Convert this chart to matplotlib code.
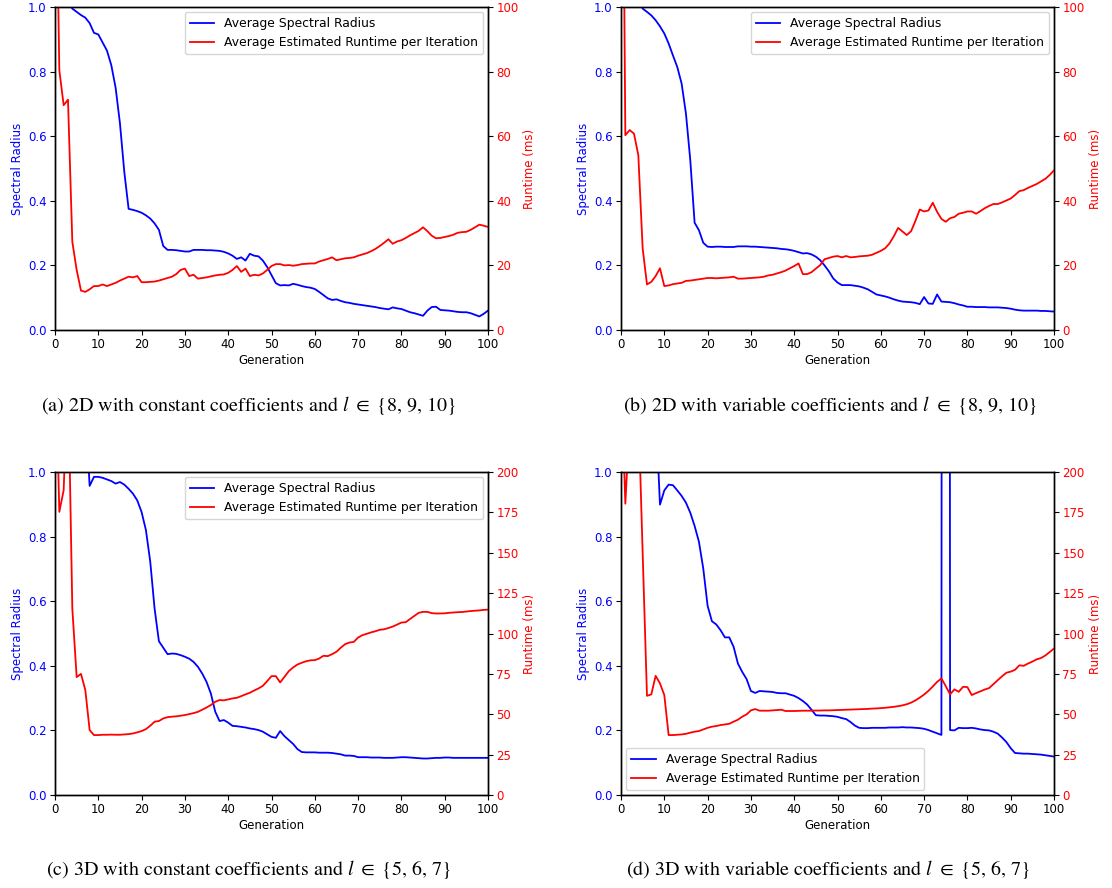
import matplotlib
matplotlib.use("Agg")
import matplotlib.pyplot as plt
import numpy as np

plt.rcParams['font.family'] = ['DejaVu Sans']
plt.rcParams['mathtext.fontset'] = 'stix'

generations = list(range(101))

sr_a = [1.2, 1.15, 1.1, 1.02, 0.995, 0.985, 0.975, 0.967, 0.95, 0.92,
        0.915, 0.89, 0.865, 0.82, 0.75, 0.64, 0.49, 0.375, 0.372, 0.368,
        0.363, 0.355, 0.345, 0.33, 0.31, 0.26, 0.248, 0.248, 0.247, 0.245,
        0.243, 0.243, 0.248, 0.248, 0.248, 0.247, 0.247, 0.246, 0.245, 0.242,
        0.237, 0.230, 0.220, 0.225, 0.215, 0.236, 0.230, 0.228, 0.215, 0.195,
        0.170, 0.145, 0.138, 0.139, 0.138, 0.143, 0.140, 0.136, 0.133, 0.131,
        0.127, 0.118, 0.108, 0.098, 0.093, 0.095, 0.090, 0.086, 0.084, 0.081,
        0.079, 0.077, 0.075, 0.073, 0.071, 0.068, 0.066, 0.064, 0.070, 0.067,
        0.065, 0.060, 0.055, 0.052, 0.048, 0.044, 0.060, 0.071, 0.072, 0.062,
        0.061, 0.060, 0.058, 0.056, 0.055, 0.055, 0.052, 0.047, 0.042, 0.050,
        0.060]
rt_a = [165, 80.4, 69.6, 71.3, 27.3, 18.6, 12.2, 11.8, 12.6, 13.6,
        13.6, 14.1, 13.6, 14.1, 14.6, 15.3, 15.9, 16.5, 16.3, 16.7,
        14.8, 14.8, 14.9, 15.0, 15.3, 15.7, 16.1, 16.5, 17.3, 18.6,
        19.0, 16.7, 17.1, 15.9, 16.1, 16.3, 16.6, 16.9, 17.1, 17.2,
        17.7, 18.6, 19.8, 18.0, 19.0, 16.7, 17.1, 16.9, 17.5, 18.6,
        19.8, 20.4, 20.4, 20.0, 20.1, 19.9, 20.1, 20.4, 20.5, 20.6,
        20.6, 21.2, 21.6, 22.0, 22.5, 21.6, 21.9, 22.2, 22.3, 22.5,
        23.0, 23.4, 23.8, 24.4, 25.1, 26.0, 27.0, 28.1, 26.7, 27.4,
        27.8, 28.5, 29.3, 30.0, 30.7, 31.8, 30.6, 29.2, 28.4, 28.5,
        28.8, 29.1, 29.5, 30.1, 30.3, 30.4, 31.0, 31.8, 32.6, 32.3,
        31.9]

sr_b = [1.3, 1.25, 1.2, 1.1, 1.05, 0.995, 0.985, 0.974, 0.959, 0.94,
        0.918, 0.887, 0.85, 0.814, 0.763, 0.67, 0.526, 0.332, 0.309, 0.27,
        0.258, 0.257, 0.258, 0.258, 0.257, 0.257, 0.257, 0.259, 0.259, 0.259,
        0.258, 0.258, 0.257, 0.256, 0.255, 0.254, 0.253, 0.251, 0.250, 0.248,
        0.245, 0.241, 0.237, 0.238, 0.234, 0.227, 0.216, 0.200, 0.182, 0.160,
        0.147, 0.139, 0.139, 0.139, 0.137, 0.135, 0.131, 0.126, 0.118, 0.110,
        0.107, 0.104, 0.100, 0.095, 0.091, 0.088, 0.087, 0.086, 0.084, 0.080,
        0.102, 0.082, 0.081, 0.110, 0.088, 0.087, 0.086, 0.083, 0.079, 0.076,
        0.072, 0.072, 0.071, 0.071, 0.071, 0.070, 0.070, 0.070, 0.069, 0.068,
        0.066, 0.063, 0.061, 0.060, 0.060, 0.060, 0.060, 0.059, 0.059, 0.058,
        0.057]
rt_b = [233, 60.3, 61.9, 60.8, 54.1, 25.3, 14.1, 14.9, 16.7, 19.1,
        13.6, 13.8, 14.2, 14.4, 14.6, 15.2, 15.3, 15.5, 15.7, 15.9,
        16.1, 16.1, 16.0, 16.1, 16.2, 16.3, 16.5, 15.9, 15.9, 16.0,
        16.1, 16.2, 16.3, 16.5, 16.9, 17.1, 17.5, 17.9, 18.4, 19.1,
        19.8, 20.6, 17.3, 17.3, 17.9, 19.0, 20.1, 21.9, 22.3, 22.7,
        22.9, 22.5, 22.9, 22.5, 22.6, 22.8, 22.9, 23.0, 23.3, 23.9,
        24.5, 25.3, 26.8, 29.0, 31.6, 30.5, 29.4, 30.6, 33.8, 37.3,
        36.7, 37.0, 39.4, 36.6, 34.4, 33.5, 34.6, 35.0, 36.0, 36.3,
        36.7, 36.7, 36.0, 36.8, 37.7, 38.4, 39.0, 39.0, 39.5, 40.1,
        40.7, 41.8, 43.0, 43.3, 44.0, 44.6, 45.2, 46.0, 46.8, 48.0,
        49.4]

sr_c = [1.5, 1.5, 1.4, 1.4, 1.3, 1.3, 1.2, 1.2, 0.957, 0.985,
        0.985, 0.982, 0.977, 0.972, 0.964, 0.969, 0.961, 0.948, 0.933, 0.912,
        0.876, 0.82, 0.722, 0.577, 0.476, 0.456, 0.436, 0.438, 0.437, 0.433,
        0.428, 0.422, 0.412, 0.397, 0.376, 0.350, 0.314, 0.258, 0.229, 0.232,
        0.224, 0.214, 0.213, 0.211, 0.209, 0.206, 0.204, 0.201, 0.196, 0.188,
        0.180, 0.177, 0.198, 0.182, 0.170, 0.158, 0.142, 0.133, 0.132, 0.132,
        0.132, 0.131, 0.131, 0.131, 0.130, 0.128, 0.126, 0.122, 0.122, 0.121,
        0.117, 0.117, 0.117, 0.116, 0.116, 0.116, 0.115, 0.115, 0.115, 0.116,
        0.117, 0.117, 0.116, 0.115, 0.114, 0.113, 0.113, 0.114, 0.115, 0.115,
        0.116, 0.116, 0.115, 0.115, 0.115, 0.115, 0.115, 0.115, 0.115, 0.115,
        0.115]
rt_c = [282, 175.3, 188.7, 264, 115.5, 73, 75, 65, 40.2, 37.1,
        37.1, 37.3, 37.3, 37.4, 37.3, 37.3, 37.5, 37.7, 38.1, 38.8,
        39.6, 40.8, 42.9, 45.4, 45.8, 47.4, 48.2, 48.5, 48.7, 49.1,
        49.5, 50.1, 50.7, 51.5, 52.8, 54.2, 55.7, 57.7, 58.8, 58.6,
        59.2, 59.8, 60.2, 61.2, 62.3, 63.3, 64.7, 66.0, 67.6, 70.5,
        73.6, 73.6, 69.7, 73.2, 76.7, 79.0, 80.8, 81.9, 82.8, 83.4,
        83.5, 84.5, 86.2, 86.0, 87.2, 88.7, 91.2, 93.4, 94.4, 94.8,
        97.5, 99.0, 99.8, 100.7, 101.4, 102.3, 102.6, 103.4, 104.3, 105.5,
        106.8, 107.0, 109.0, 110.9, 112.8, 113.4, 113.4, 112.6, 112.4, 112.4,
        112.5, 112.8, 113.0, 113.2, 113.3, 113.6, 113.9, 114.1, 114.3, 114.6,
        114.8]

sr_d = [1.5, 1.5, 1.4, 1.4, 1.3, 1.3, 1.2, 1.2, 1.2, 0.899,
        0.943, 0.961, 0.959, 0.943, 0.926, 0.905, 0.874, 0.833, 0.784, 0.701,
        0.586, 0.538, 0.528, 0.51, 0.488, 0.488, 0.459, 0.407, 0.381, 0.359,
        0.322, 0.316, 0.322, 0.321, 0.320, 0.319, 0.316, 0.315, 0.315, 0.311,
        0.307, 0.300, 0.291, 0.280, 0.264, 0.247, 0.246, 0.246, 0.245, 0.244,
        0.242, 0.238, 0.235, 0.226, 0.215, 0.208, 0.207, 0.207, 0.208, 0.208,
        0.208, 0.208, 0.209, 0.209, 0.209, 0.210, 0.209, 0.209, 0.208, 0.207,
        0.205, 0.201, 0.196, 0.191, 0.186, 20.0, 0.201, 0.200, 0.208, 0.207,
        0.207, 0.208, 0.206, 0.203, 0.201, 0.200, 0.196, 0.190, 0.178, 0.164,
        0.145, 0.130, 0.129, 0.128, 0.128, 0.127, 0.126, 0.125, 0.123, 0.121,
        0.119]
rt_d = [265, 180.4, 232, 250, 240, 150, 61.4, 62.3, 73.8, 69.1,
        61.9, 37.1, 37.1, 37.3, 37.5, 37.9, 38.6, 39.2, 39.6, 40.6,
        41.6, 42.3, 42.7, 43.3, 43.7, 44.1, 45.4, 46.6, 48.5, 49.9,
        52.4, 53.2, 52.2, 52.2, 52.2, 52.4, 52.6, 52.8, 52.0, 52.0,
        52.0, 52.1, 52.2, 52.2, 52.2, 52.3, 52.3, 52.4, 52.4, 52.5,
        52.6, 52.7, 52.8, 52.9, 53.0, 53.1, 53.2, 53.3, 53.5, 53.6,
        53.8, 54.0, 54.3, 54.6, 55.0, 55.5, 56.2, 57.2, 58.6, 60.3,
        62.2, 64.5, 67.2, 70.0, 72.2, 67.4, 62.3, 65.4, 63.9, 67.0,
        66.8, 61.9, 63.1, 64.2, 65.3, 66.2, 68.6, 71.1, 73.5, 75.7,
        76.4, 77.5, 80.3, 80.0, 81.4, 82.6, 84.0, 84.8, 86.4, 88.5,
        90.7]

captions = [
    "(a) 2D with constant coefficients and $l\\ \\in$ {8, 9, 10}",
    "(b) 2D with variable coefficients and $l\\ \\in$ {8, 9, 10}",
    "(c) 3D with constant coefficients and $l\\ \\in$ {5, 6, 7}",
    "(d) 3D with variable coefficients and $l\\ \\in$ {5, 6, 7}",
]
runtime_max = [100, 100, 200, 200]
legend_loc = ['upper right', 'upper right', 'upper right', 'lower left']

W, H = 1112, 888
fig = plt.figure(figsize=(W / 100, H / 100), dpi=100)

FS = 8.5
LFS = 8.9
panels = [(sr_a, rt_a), (sr_b, rt_b), (sr_c, rt_c), (sr_d, rt_d)]
lefts = [55, 621, 55, 621]
tops = [7, 7, 472, 472]
aw, ah = 433, 323
cap_x = [249, 830, 249, 828]
cap_y = [405, 405, 869, 869]

for i, (sr, rt) in enumerate(panels):
    l, t = lefts[i], tops[i]
    ax = fig.add_axes([l / W, 1 - (t + ah) / H, aw / W, ah / H])
    ax2 = ax.twinx()
    l1, = ax.plot(generations, sr, color='b', lw=1.3, label='Average Spectral Radius')
    l2, = ax2.plot(generations, rt, color='r', lw=1.3,
                   label='Average Estimated Runtime per Iteration')
    ax.set_xlim(0, 100)
    ax.set_ylim(0, 1.0)
    ax2.set_ylim(0, runtime_max[i])
    ax.set_xticks(np.arange(0, 101, 10))
    ax.set_yticks(np.arange(0, 1.01, 0.2))
    if runtime_max[i] == 100:
        ax2.set_yticks(np.arange(0, 101, 20))
    else:
        ax2.set_yticks(np.arange(0, 201, 25))
    ax.set_xlabel('Generation', fontsize=FS, labelpad=2)
    ax.set_ylabel('Spectral Radius', color='b', fontsize=FS, labelpad=3)
    ax2.set_ylabel('Runtime (ms)', color='r', fontsize=FS, labelpad=3)
    ax.tick_params(axis='x', labelsize=FS, pad=2.5)
    ax.tick_params(axis='y', labelcolor='b', labelsize=FS, pad=2.5)
    ax2.tick_params(axis='y', labelcolor='r', labelsize=FS, pad=2.5)
    for a in (ax, ax2):
        for s in a.spines.values():
            s.set_linewidth(1.0)
    ax2.legend([l1, l2], [l1.get_label(), l2.get_label()], loc=legend_loc[i],
               fontsize=LFS, borderaxespad=0.4)
    fig.text(cap_x[i] / W, 1 - cap_y[i] / H, captions[i], ha='center', va='center',
             fontsize=14.4, family='STIXGeneral')

fig.savefig('out.png', dpi=100)
